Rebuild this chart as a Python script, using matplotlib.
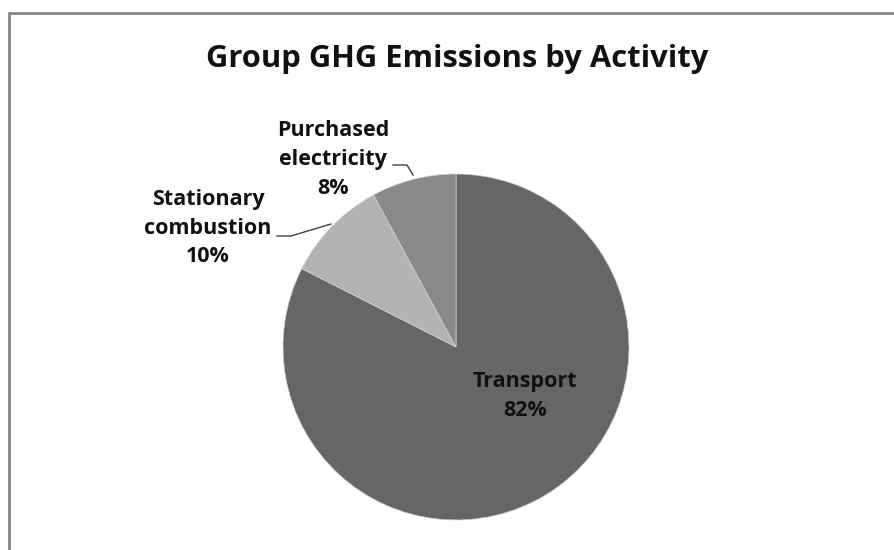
import matplotlib.pyplot as plt
from matplotlib.patches import Rectangle

# slice data (clockwise from 12 o'clock)
activities = ['Transport', 'Stationary\ncombustion', 'Purchased\nelectricity']
shares = [82.4, 9.6, 7.9]
colors = ['#666666', '#b3b3b3', '#898989']

title = 'Group GHG Emissions by Activity'

fig = plt.figure(figsize=(8.94, 5.5), dpi=100)
ax = fig.add_axes([0, 0, 1, 1])
ax.set_xlim(0, 894)
ax.set_ylim(0, 550)
ax.axis('off')

# work in pixel coords, y measured from the bottom
cx, cy, r = 456, 550 - 347, 173
wedges, _ = ax.pie(shares, colors=colors, startangle=90, counterclock=False,
                   center=(cx, cy), radius=r,
                   wedgeprops=dict(edgecolor='#d0d0d0', linewidth=0.5))
ax.set_xlim(0, 894)
ax.set_ylim(0, 550)
ax.set_aspect('equal')

# chart border
ax.add_patch(Rectangle((8.5, -20), 1000, 550 - 13 + 20, fill=False,
                       edgecolor='#878787', linewidth=2))

font = 'Open Sans'
ax.text(457, 550 - 59, title, ha='center', va='center', fontsize=22.3,
        fontweight='bold', family=font, color='#111111')

total = sum(shares)
pcts = ['%.0f%%' % (v / total * 100) for v in shares]

label_pos = [(525, 550 - 396), (208, 550 - 228), (333, 550 - 160)]
for name, pct, (x, y) in zip(activities, pcts, label_pos):
    ax.text(x, y, name + '\n' + pct, ha='center', va='center', fontsize=15.5,
            fontweight='bold', family=font, color='#111111', linespacing=1.5)

# leader lines
ax.plot([393, 407, 413], [550 - 165, 550 - 165, 550 - 175], color='#404040', lw=1)
ax.plot([277, 291, 331], [550 - 236, 550 - 236, 550 - 224], color='#404040', lw=1)

fig.savefig('out.png', dpi=100)
